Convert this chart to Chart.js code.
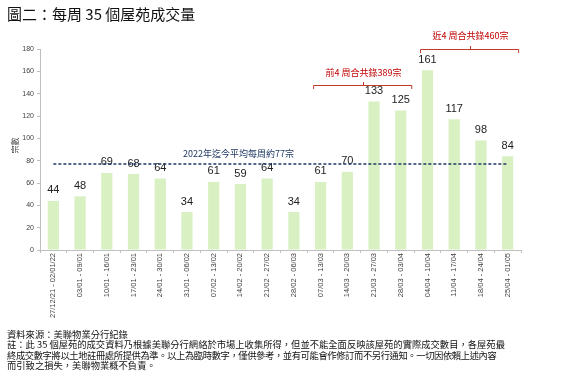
<!DOCTYPE html>
<html><head><meta charset="utf-8">
<script src="https://cdn.jsdelivr.net/npm/chart.js@4"></script>
<style>
html,body{margin:0;padding:0;background:#fff;width:563px;height:386px;overflow:hidden;font-family:"Noto Sans CJK TC","Noto Sans",sans-serif;}
#title{position:absolute;left:7px;top:3px;font-size:15px;color:#111;white-space:nowrap;}
#wrap{position:absolute;left:0;top:0;width:563px;height:330px;}
#note{position:absolute;left:7px;top:329px;font-size:9.3px;line-height:10.3px;color:#111;white-space:nowrap;}
#note .l3{letter-spacing:-0.4px;}
</style></head><body>
<div id="wrap"><canvas id="c"></canvas></div>
<div id="title">圖二：每周 35 個屋苑成交量</div>
<div id="note">資料來源：美聯物業分行紀錄<br>註：此 35 個屋苑的成交資料乃根據美聯分行網絡於市場上收集所得，但並不能全面反映該屋苑的實際成交數目，各屋苑最<br><span class="l3">終成交數字將以土地註冊處所提供為準。以上為臨時數字，僅供參考，並有可能會作修訂而不另行通知。一切因依賴上述內容</span><br>而引致之損失，美聯物業概不負責。</div>
<script>
const categories = ["27/12/21 - 02/01/22","03/01 - 09/01","10/01 - 16/01","17/01 - 23/01","24/01 - 30/01","31/01 - 06/02","07/02 - 13/02","14/02 - 20/02","21/02 - 27/02","28/02 - 06/03","07/03 - 13/03","14/03 - 20/03","21/03 - 27/03","28/03 - 03/04","04/04 - 10/04","11/04 - 17/04","18/04 - 24/04","25/04 - 01/05"];
const weeklyDeals = [44,48,69,68,64,34,61,59,64,34,61,70,133,125,161,117,98,84];
const yTicks = [0,20,40,60,80,100,120,140,160,180];
const averageValue = 77;
const averageLabel = "2022年迄今平均每周約77宗";
const brackets = [
  {from:10, to:13, level:148, textLevel:158.5, label:"前4 周合共錄389宗"},
  {from:14, to:17, level:180, textLevel:192, label:"近4 周合共錄460宗"}
];
const yTitle = "宗數";

const overlay = {
  id:'overlay',
  afterDatasetsDraw(chart){
    const ctx = chart.ctx, x = chart.scales.x, y = chart.scales.y;
    const meta = chart.getDatasetMeta(0);
    ctx.save();
    ctx.font = '11px "Liberation Sans", sans-serif';
    ctx.fillStyle = '#222';
    ctx.textAlign = 'center'; ctx.textBaseline = 'bottom';
    meta.data.forEach((bar,i)=>{ ctx.fillText(String(weeklyDeals[i]), bar.x, bar.y - 5); });
    const ay = y.getPixelForValue(averageValue);
    ctx.strokeStyle = '#1F3864'; ctx.lineWidth = 1.6; ctx.setLineDash([3,2]);
    ctx.beginPath(); ctx.moveTo(x.getPixelForValue(0), ay); ctx.lineTo(x.getPixelForValue(categories.length-1), ay); ctx.stroke();
    ctx.setLineDash([]);
    ctx.fillStyle = '#1F3864';
    ctx.font = '9px "Noto Sans CJK TC", sans-serif';
    ctx.textBaseline = 'middle';
    ctx.fillText(averageLabel, (x.getPixelForValue(6)+x.getPixelForValue(8))/2 - 2, ay - 10);
    ctx.strokeStyle = '#C0392B'; ctx.lineWidth = 1;
    brackets.forEach(b=>{
      const x0 = x.getPixelForValue(b.from) - 7, x1 = x.getPixelForValue(b.to) + 11;
      const by = Math.round(y.getPixelForValue(b.level)) + 0.5;
      const mx = Math.round((x0+x1)/2) + 0.5;
      ctx.beginPath();
      ctx.moveTo(x0, by+3.5); ctx.lineTo(x0, by); ctx.lineTo(x1, by); ctx.lineTo(x1, by+3.5);
      ctx.moveTo(mx, by); ctx.lineTo(mx, by-3.5);
      ctx.stroke();
      ctx.fillStyle = '#C00000';
      ctx.font = '9px "Noto Sans CJK TC", sans-serif';
      ctx.fillText(b.label, mx, y.getPixelForValue(b.textLevel));
    });
    ctx.save();
    ctx.translate(15, (y.top + y.bottom)/2 - 4);
    ctx.rotate(-Math.PI/2);
    ctx.fillStyle = '#404040';
    ctx.font = '8px "Noto Sans CJK TC", sans-serif';
    ctx.fillText(yTitle, 0, 0);
    ctx.restore();
    ctx.restore();
  }
};

new Chart(document.getElementById('c'), {
  type:'bar',
  data:{ labels:categories, datasets:[{ data:weeklyDeals, backgroundColor:'rgb(216,240,194)', borderWidth:0, barPercentage:0.42, categoryPercentage:1 }]},
  options:{
    responsive:true, maintainAspectRatio:false, animation:false,
    layout:{ padding:{ top:49, right:42, left:0, bottom:0 } },
    plugins:{ legend:{display:false}, tooltip:{enabled:false} },
    scales:{
      x:{
        afterFit(s){ s.height = 80; },
        grid:{ drawOnChartArea:false, color:'#BFBFBF', tickLength:3 },
        border:{ color:'#BFBFBF' },
        ticks:{ minRotation:90, maxRotation:90, autoSkip:false, color:'#404040', padding:0, font:{ size:7.5, family:'"Liberation Sans", sans-serif' } }
      },
      y:{
        min:0, max:180,
        afterFit(s){ s.width = 40; },
        afterBuildTicks(s){ s.ticks = yTicks.map(v=>({value:v})); },
        grid:{ drawOnChartArea:false, color:'#BFBFBF', tickLength:3 },
        border:{ color:'#BFBFBF' },
        ticks:{ color:'#404040', padding:3, font:{ size:7, family:'"Liberation Sans", sans-serif' } }
      }
    }
  },
  plugins:[overlay]
});
</script>
</body></html>
